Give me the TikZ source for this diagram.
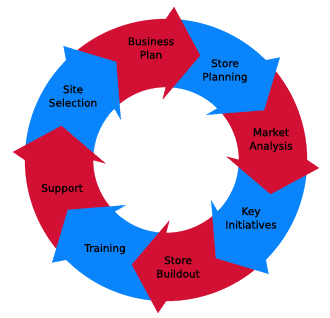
\documentclass[tikz,border=0pt]{standalone}
\usepackage{fontspec}
\setmainfont{DejaVu Sans}
\newfontface\lblfont{DejaVu Sans}[FakeBold=0.8]
\definecolor{ringred}{RGB}{210,16,52}
\definecolor{ringblue}{RGB}{10,132,250}
\tikzset{
  body/.style={fill=#1, draw=#1, line width=0.3pt},
  head/.style={fill=#1, draw=#1, line width=0.3pt},
  lbl/.style={align=center, font=\lblfont\fontsize{10.5}{13.5}\selectfont, text=black, inner sep=0pt}
}
\newcommand{\ringbody}[2]{%
  \begin{scope}[rotate=#1]
    \path[body=#2] (135:73) -- (135:141) arc[start angle=135, end angle=90, radius=141]
      -- (90:73) arc[start angle=90, end angle=135, radius=73] -- cycle;
  \end{scope}}
\newcommand{\ringhead}[2]{%
  \begin{scope}[rotate=#1]
    \path[head=#2] (92:140.5) -- (90:141) -- (87:153) -- (72:110) -- (93:61) -- (90:73) -- (92:73.5) -- cycle;
  \end{scope}}
\begin{document}
\begin{tikzpicture}[x=1pt,y=1pt]
\useasboundingbox (0,0) rectangle (330,317);
\begin{scope}[shift={(166,157)}]
  \ringbody{0}{ringred}
  \ringbody{-45}{ringblue}
  \ringbody{-90}{ringred}
  \ringbody{-135}{ringblue}
  \ringbody{-180}{ringred}
  \ringbody{-225}{ringblue}
  \ringbody{-270}{ringred}
  \ringbody{-315}{ringblue}
  \ringhead{0}{ringred}
  \ringhead{-45}{ringblue}
  \ringhead{-90}{ringred}
  \ringhead{-135}{ringblue}
  \ringhead{-180}{ringred}
  \ringhead{-225}{ringblue}
  \ringhead{-270}{ringred}
  \ringhead{-315}{ringblue}
\end{scope}
\node[lbl] (bp) at (151,269) {Business\\Plan};
\node[lbl] (sp) at (225,246) {Store\\Planning};
\node[lbl] (ma) at (271,177) {Market\\Analysis};
\node[lbl] (ki) at (251,99) {Key\\Initiatives};
\node[lbl] (sb) at (178,50) {Store\\Buildout};
\node[lbl] (tr) at (105,68) {Training};
\node[lbl] (su) at (62,128) {Support};
\node[lbl] (ss) at (73,221) {Site\\Selection};
\end{tikzpicture}
\end{document}
